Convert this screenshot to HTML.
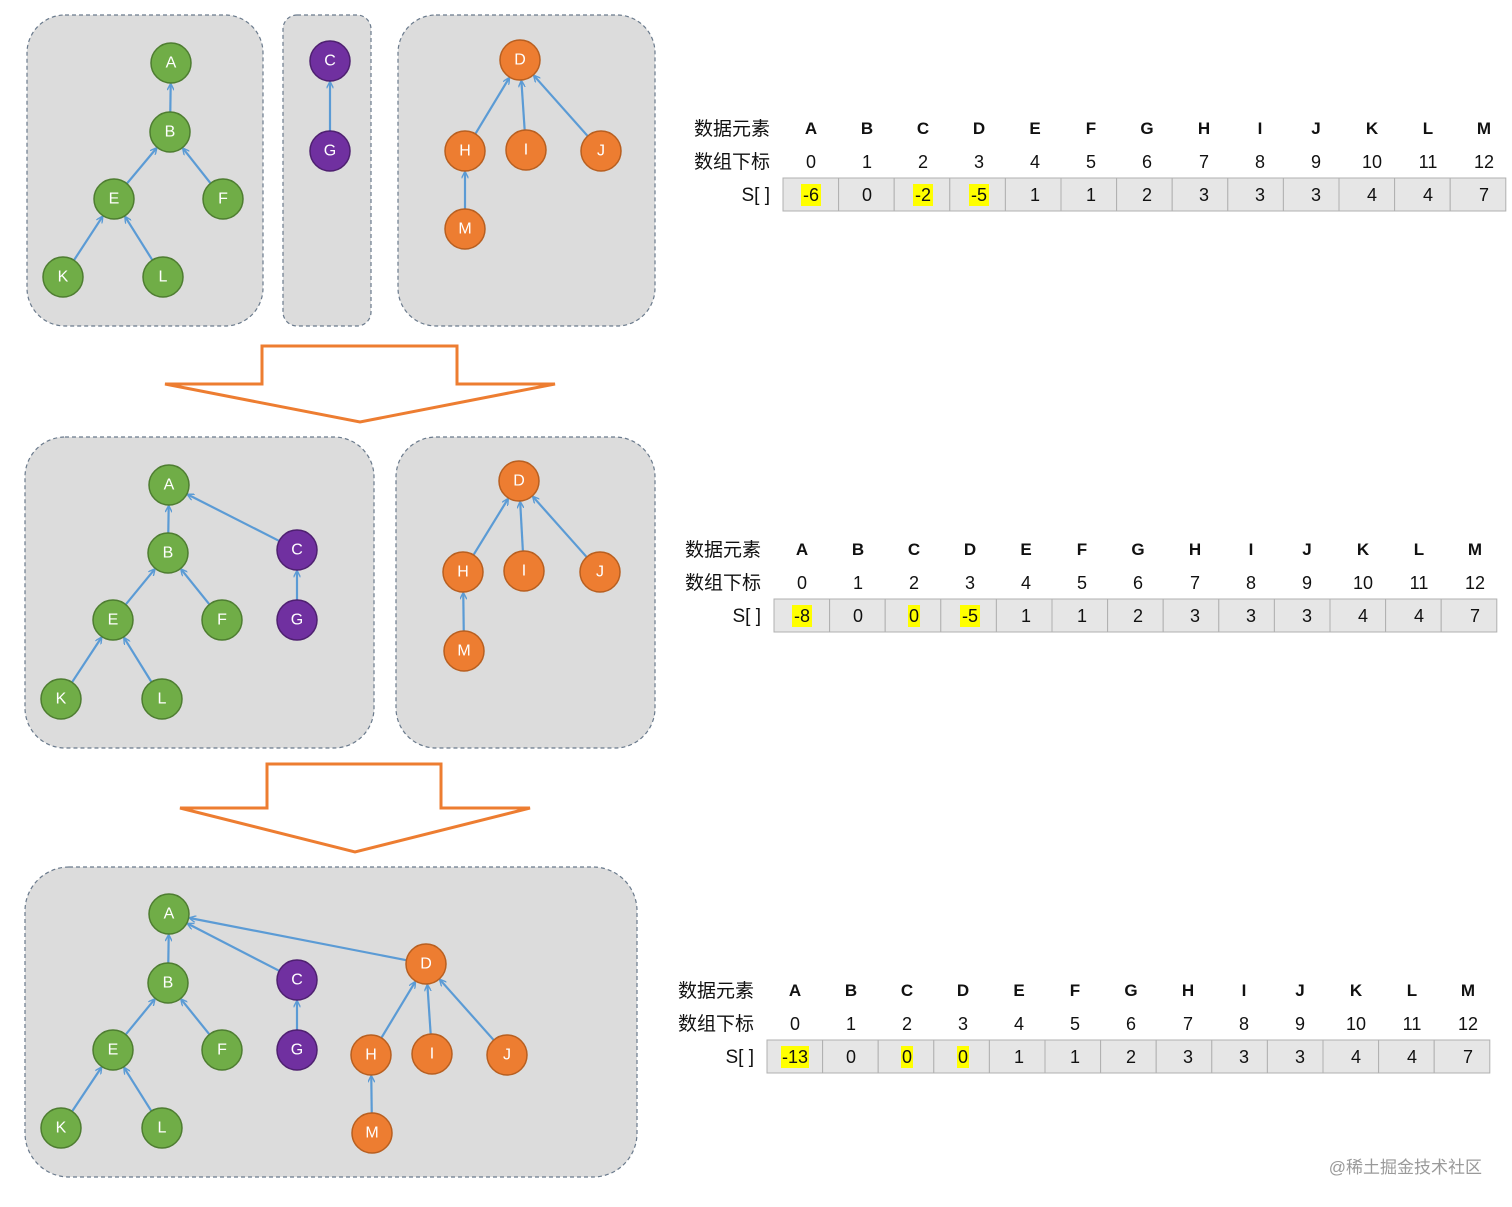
<!DOCTYPE html>
<html><head><meta charset="utf-8"><style>
html,body{margin:0;padding:0;background:#fff;}
svg{display:block;}
.n text{font-family:"Liberation Sans",sans-serif;font-size:16px;fill:#fff;text-anchor:middle;dominant-baseline:central;}
.t text{font-family:"Liberation Sans","Noto Sans CJK SC",sans-serif;font-size:18px;fill:#111;text-anchor:middle;}
.t .h{font-weight:bold;font-size:17px;}
.t .cn{font-size:19px;text-anchor:end;}
</style></head><body>
<svg id="s" width="1512" height="1207" viewBox="0 0 1512 1207" xmlns="http://www.w3.org/2000/svg">
<defs>
<marker id="ar" viewBox="0 0 10 10" refX="9" refY="5" markerWidth="7" markerHeight="7" orient="auto" markerUnits="userSpaceOnUse">
<path d="M0,0 L10,5 L0,10" fill="none" stroke="#5b9bd5" stroke-width="2"/></marker>
</defs>
<g fill="#dcdcdc" stroke="#6a7a8c" stroke-width="1.2" stroke-dasharray="4,3">
<rect x="27" y="15" width="236" height="311" rx="38"/>
<rect x="283" y="15" width="88" height="311" rx="14"/>
<rect x="398" y="15" width="257" height="311" rx="38"/>
<rect x="25" y="437" width="349" height="311" rx="40"/>
<rect x="396" y="437" width="259" height="311" rx="40"/>
<rect x="25" y="867" width="612" height="310" rx="44"/>
</g>
<g fill="#fff" stroke="#ed7d31" stroke-width="3">
<polygon points="262,346 457,346 457,384 555,384 360,422 165,384 262,384"/>
<polygon points="267,764 441,764 441,808 530,808 355,852 180,808 267,808"/>
</g>
<g id="edges" stroke="#5b9bd5" stroke-width="2.2" fill="none"></g>
<g class="n" id="nodes"></g>
<g class="n">
<!-- panel1 -->
<g id="p1">
</g>
</g>
<g class="n" stroke-width="1.5">
<circle cx="171" cy="63" r="20" fill="#70ad47" stroke="#4e7d31"/><text x="171" y="63">A</text>
<circle cx="170" cy="132" r="20" fill="#70ad47" stroke="#4e7d31"/><text x="170" y="132">B</text>
<circle cx="114" cy="199" r="20" fill="#70ad47" stroke="#4e7d31"/><text x="114" y="199">E</text>
<circle cx="223" cy="199" r="20" fill="#70ad47" stroke="#4e7d31"/><text x="223" y="199">F</text>
<circle cx="63" cy="277" r="20" fill="#70ad47" stroke="#4e7d31"/><text x="63" y="277">K</text>
<circle cx="163" cy="277" r="20" fill="#70ad47" stroke="#4e7d31"/><text x="163" y="277">L</text>
<circle cx="330" cy="61" r="20" fill="#7030a0" stroke="#4e2070"/><text x="330" y="61">C</text>
<circle cx="330" cy="151" r="20" fill="#7030a0" stroke="#4e2070"/><text x="330" y="151">G</text>
<circle cx="520" cy="60" r="20" fill="#ed7d31" stroke="#b85f20"/><text x="520" y="60">D</text>
<circle cx="465" cy="151" r="20" fill="#ed7d31" stroke="#b85f20"/><text x="465" y="151">H</text>
<circle cx="526" cy="150" r="20" fill="#ed7d31" stroke="#b85f20"/><text x="526" y="150">I</text>
<circle cx="601" cy="151" r="20" fill="#ed7d31" stroke="#b85f20"/><text x="601" y="151">J</text>
<circle cx="465" cy="229" r="20" fill="#ed7d31" stroke="#b85f20"/><text x="465" y="229">M</text>

<circle cx="169" cy="485" r="20" fill="#70ad47" stroke="#4e7d31"/><text x="169" y="485">A</text>
<circle cx="168" cy="553" r="20" fill="#70ad47" stroke="#4e7d31"/><text x="168" y="553">B</text>
<circle cx="113" cy="620" r="20" fill="#70ad47" stroke="#4e7d31"/><text x="113" y="620">E</text>
<circle cx="222" cy="620" r="20" fill="#70ad47" stroke="#4e7d31"/><text x="222" y="620">F</text>
<circle cx="61" cy="699" r="20" fill="#70ad47" stroke="#4e7d31"/><text x="61" y="699">K</text>
<circle cx="162" cy="699" r="20" fill="#70ad47" stroke="#4e7d31"/><text x="162" y="699">L</text>
<circle cx="297" cy="550" r="20" fill="#7030a0" stroke="#4e2070"/><text x="297" y="550">C</text>
<circle cx="297" cy="620" r="20" fill="#7030a0" stroke="#4e2070"/><text x="297" y="620">G</text>
<circle cx="519" cy="481" r="20" fill="#ed7d31" stroke="#b85f20"/><text x="519" y="481">D</text>
<circle cx="463" cy="572" r="20" fill="#ed7d31" stroke="#b85f20"/><text x="463" y="572">H</text>
<circle cx="524" cy="571" r="20" fill="#ed7d31" stroke="#b85f20"/><text x="524" y="571">I</text>
<circle cx="600" cy="572" r="20" fill="#ed7d31" stroke="#b85f20"/><text x="600" y="572">J</text>
<circle cx="464" cy="651" r="20" fill="#ed7d31" stroke="#b85f20"/><text x="464" y="651">M</text>

<circle cx="169" cy="914" r="20" fill="#70ad47" stroke="#4e7d31"/><text x="169" y="914">A</text>
<circle cx="168" cy="983" r="20" fill="#70ad47" stroke="#4e7d31"/><text x="168" y="983">B</text>
<circle cx="113" cy="1050" r="20" fill="#70ad47" stroke="#4e7d31"/><text x="113" y="1050">E</text>
<circle cx="222" cy="1050" r="20" fill="#70ad47" stroke="#4e7d31"/><text x="222" y="1050">F</text>
<circle cx="61" cy="1128" r="20" fill="#70ad47" stroke="#4e7d31"/><text x="61" y="1128">K</text>
<circle cx="162" cy="1128" r="20" fill="#70ad47" stroke="#4e7d31"/><text x="162" y="1128">L</text>
<circle cx="297" cy="980" r="20" fill="#7030a0" stroke="#4e2070"/><text x="297" y="980">C</text>
<circle cx="297" cy="1050" r="20" fill="#7030a0" stroke="#4e2070"/><text x="297" y="1050">G</text>
<circle cx="426" cy="964" r="20" fill="#ed7d31" stroke="#b85f20"/><text x="426" y="964">D</text>
<circle cx="371" cy="1055" r="20" fill="#ed7d31" stroke="#b85f20"/><text x="371" y="1055">H</text>
<circle cx="432" cy="1054" r="20" fill="#ed7d31" stroke="#b85f20"/><text x="432" y="1054">I</text>
<circle cx="507" cy="1055" r="20" fill="#ed7d31" stroke="#b85f20"/><text x="507" y="1055">J</text>
<circle cx="372" cy="1133" r="20" fill="#ed7d31" stroke="#b85f20"/><text x="372" y="1133">M</text>
</g>

<g id="tables"></g>
<g class="t" transform="translate(0,0)">
<g id="tb1">
<g fill="#e6e6e6" stroke="#b0b0b0" stroke-width="1" id="cells1"></g>
<g fill="#ffff00"><rect x="801" y="184" width="20" height="22"/><rect x="913" y="184" width="20" height="22"/><rect x="969" y="184" width="20" height="22"/></g>
<text class="cn" x="770" y="135">数据元素</text><text class="cn" x="770" y="168">数组下标</text><text class="cn" x="770" y="201">S[ ]</text>
<text class="h" x="811" y="134">A</text><text class="h" x="867" y="134">B</text><text class="h" x="923" y="134">C</text><text class="h" x="979" y="134">D</text><text class="h" x="1035" y="134">E</text><text class="h" x="1091" y="134">F</text><text class="h" x="1147" y="134">G</text><text class="h" x="1204" y="134">H</text><text class="h" x="1260" y="134">I</text><text class="h" x="1316" y="134">J</text><text class="h" x="1372" y="134">K</text><text class="h" x="1428" y="134">L</text><text class="h" x="1484" y="134">M</text>
<text x="811" y="168">0</text><text x="867" y="168">1</text><text x="923" y="168">2</text><text x="979" y="168">3</text><text x="1035" y="168">4</text><text x="1091" y="168">5</text><text x="1147" y="168">6</text><text x="1204" y="168">7</text><text x="1260" y="168">8</text><text x="1316" y="168">9</text><text x="1372" y="168">10</text><text x="1428" y="168">11</text><text x="1484" y="168">12</text>
<text x="811" y="201">-6</text><text x="867" y="201">0</text><text x="923" y="201">-2</text><text x="979" y="201">-5</text><text x="1035" y="201">1</text><text x="1091" y="201">1</text><text x="1147" y="201">2</text><text x="1204" y="201">3</text><text x="1260" y="201">3</text><text x="1316" y="201">3</text><text x="1372" y="201">4</text><text x="1428" y="201">4</text><text x="1484" y="201">7</text>
</g>
</g>
<g class="t" transform="translate(-9,421)">
<g fill="#e6e6e6" stroke="#b0b0b0" stroke-width="1" id="cells2"></g>
<g fill="#ffff00"><rect x="801" y="184" width="20" height="22"/><rect x="917" y="184" width="12" height="22"/><rect x="969" y="184" width="20" height="22"/></g>
<text class="cn" x="770" y="135">数据元素</text><text class="cn" x="770" y="168">数组下标</text><text class="cn" x="770" y="201">S[ ]</text>
<text class="h" x="811" y="134">A</text><text class="h" x="867" y="134">B</text><text class="h" x="923" y="134">C</text><text class="h" x="979" y="134">D</text><text class="h" x="1035" y="134">E</text><text class="h" x="1091" y="134">F</text><text class="h" x="1147" y="134">G</text><text class="h" x="1204" y="134">H</text><text class="h" x="1260" y="134">I</text><text class="h" x="1316" y="134">J</text><text class="h" x="1372" y="134">K</text><text class="h" x="1428" y="134">L</text><text class="h" x="1484" y="134">M</text>
<text x="811" y="168">0</text><text x="867" y="168">1</text><text x="923" y="168">2</text><text x="979" y="168">3</text><text x="1035" y="168">4</text><text x="1091" y="168">5</text><text x="1147" y="168">6</text><text x="1204" y="168">7</text><text x="1260" y="168">8</text><text x="1316" y="168">9</text><text x="1372" y="168">10</text><text x="1428" y="168">11</text><text x="1484" y="168">12</text>
<text x="811" y="201">-8</text><text x="867" y="201">0</text><text x="923" y="201">0</text><text x="979" y="201">-5</text><text x="1035" y="201">1</text><text x="1091" y="201">1</text><text x="1147" y="201">2</text><text x="1204" y="201">3</text><text x="1260" y="201">3</text><text x="1316" y="201">3</text><text x="1372" y="201">4</text><text x="1428" y="201">4</text><text x="1484" y="201">7</text>
</g>
<g class="t" transform="translate(-16,862)">
<g fill="#e6e6e6" stroke="#b0b0b0" stroke-width="1" id="cells3"></g>
<g fill="#ffff00"><rect x="797" y="184" width="28" height="22"/><rect x="917" y="184" width="12" height="22"/><rect x="973" y="184" width="12" height="22"/></g>
<text class="cn" x="770" y="135">数据元素</text><text class="cn" x="770" y="168">数组下标</text><text class="cn" x="770" y="201">S[ ]</text>
<text class="h" x="811" y="134">A</text><text class="h" x="867" y="134">B</text><text class="h" x="923" y="134">C</text><text class="h" x="979" y="134">D</text><text class="h" x="1035" y="134">E</text><text class="h" x="1091" y="134">F</text><text class="h" x="1147" y="134">G</text><text class="h" x="1204" y="134">H</text><text class="h" x="1260" y="134">I</text><text class="h" x="1316" y="134">J</text><text class="h" x="1372" y="134">K</text><text class="h" x="1428" y="134">L</text><text class="h" x="1484" y="134">M</text>
<text x="811" y="168">0</text><text x="867" y="168">1</text><text x="923" y="168">2</text><text x="979" y="168">3</text><text x="1035" y="168">4</text><text x="1091" y="168">5</text><text x="1147" y="168">6</text><text x="1204" y="168">7</text><text x="1260" y="168">8</text><text x="1316" y="168">9</text><text x="1372" y="168">10</text><text x="1428" y="168">11</text><text x="1484" y="168">12</text>
<text x="811" y="201">-13</text><text x="867" y="201">0</text><text x="923" y="201">0</text><text x="979" y="201">0</text><text x="1035" y="201">1</text><text x="1091" y="201">1</text><text x="1147" y="201">2</text><text x="1204" y="201">3</text><text x="1260" y="201">3</text><text x="1316" y="201">3</text><text x="1372" y="201">4</text><text x="1428" y="201">4</text><text x="1484" y="201">7</text>
</g>
<text x="1482" y="1173" text-anchor="end" font-family="'Liberation Sans','Noto Sans CJK SC',sans-serif" font-size="17" fill="#9a9a9a">@稀土掘金技术社区</text>
</svg>
<script>
(function(){
var NS="http://www.w3.org/2000/svg";
var E=[
[114,199,170,132],[223,199,170,132],[170,132,171,63],[63,277,114,199],[163,277,114,199],[330,151,330,61],
[465,151,520,60],[526,150,520,60],[601,151,520,60],[465,229,465,151],
[168,553,169,485],[297,550,169,485],[113,620,168,553],[222,620,168,553],[61,699,113,620],[162,699,113,620],[297,620,297,550],
[463,572,519,481],[524,571,519,481],[600,572,519,481],[464,651,463,572],
[168,983,169,914],[297,980,169,914],[426,964,169,914],[113,1050,168,983],[222,1050,168,983],[61,1128,113,1050],[162,1128,113,1050],[297,1050,297,980],
[371,1055,426,964],[432,1054,426,964],[507,1055,426,964],[372,1133,371,1055]];
var g=document.getElementById('edges');
E.forEach(function(e){var dx=e[2]-e[0],dy=e[3]-e[1],d=Math.sqrt(dx*dx+dy*dy),ux=dx/d,uy=dy/d;
var l=document.createElementNS(NS,'line');
l.setAttribute('x1',e[0]+ux*20);l.setAttribute('y1',e[1]+uy*20);
l.setAttribute('x2',e[2]-ux*21);l.setAttribute('y2',e[3]-uy*21);
l.setAttribute('marker-end','url(#ar)');g.appendChild(l);});
['cells1','cells2','cells3'].forEach(function(id){var c=document.getElementById(id);
for(var i=0;i<13;i++){var r=document.createElementNS(NS,'rect');
r.setAttribute('x',783+i*55.6);r.setAttribute('y',178);r.setAttribute('width',55.6);r.setAttribute('height',33);c.appendChild(r);}});
})();
</script>
</body></html>
